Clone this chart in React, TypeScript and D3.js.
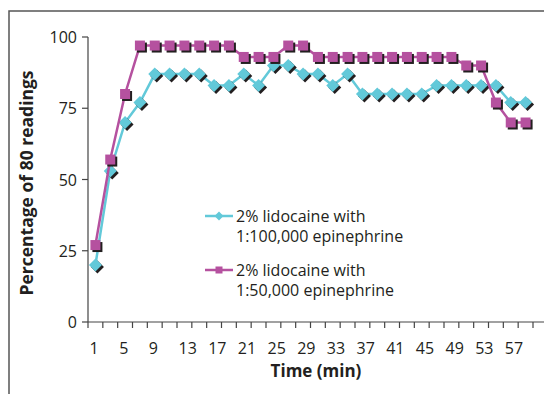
import React from "react";
import * as d3 from "d3";

const times = [1,3,5,7,9,11,13,15,17,19,21,23,25,27,29,31,33,35,37,39,41,43,45,47,49,51,53,55,57,59];
const series100k = [20,53,70,77,87,87,87,87,83,83,87,83,90,90,87,87,83,87,80,80,80,80,80,83,83,83,83,83,77,77];
const series50k = [27,57,80,97,97,97,97,97,97,97,93,93,93,97,97,93,93,93,93,93,93,93,93,93,93,90,90,77,70,70];
const yTicks = [0,25,50,75,100];
const labelTimes = [1,5,9,13,17,21,25,29,33,37,41,45,49,53,57];
const legendLabels = [["2% lidocaine with","1:100,000 epinephrine"],["2% lidocaine with","1:50,000 epinephrine"]];

const W = 544, H = 394;
const BLUE = "#62C9D9";
const MAG = "#B5519F";
const FONT = "'Open Sans', Lato, sans-serif";

export default function App() {
  const x = d3.scaleBand<number>().domain(times).range([88, 533]).padding(0);
  const y = d3.scaleLinear().domain([0, 100]).range([322, 37]);
  const cx = (t: number) => (x(t) as number) + x.bandwidth() / 2;
  const line = d3.line<number>().x((_, i) => cx(times[i])).y((v) => y(v));

  const diamond = (px: number, py: number, r: number) =>
    `M${px},${py - r}L${px + r},${py}L${px},${py + r}L${px - r},${py}Z`;

  const boundaries = [...times.map((t) => x(t) as number), (x(times[times.length - 1]) as number) + x.bandwidth()];

  return (
    <svg width={W} height={H} style={{ position: "fixed", left: 0, top: 0, background: "#fff" }} fontFamily={FONT}>
      <rect x={0} y={0} width={W} height={H} fill="#fff" />
      {/* frame */}
      <path d={`M9,${H}V11H${W}`} fill="none" stroke="#555" strokeWidth={1.5} />

      {/* y axis */}
      <line x1={88} x2={88} y1={y(100)} y2={y(0)} stroke="#444" strokeWidth={1.2} />
      {yTicks.map((v) => (
        <g key={v}>
          <line x1={82} x2={88} y1={y(v)} y2={y(v)} stroke="#444" strokeWidth={1.2} />
          <text x={77} y={y(v)} textAnchor="end" dominantBaseline="central" fontSize={16} fill="#231f20">{v}</text>
        </g>
      ))}
      {/* x axis */}
      <line x1={88} x2={W} y1={y(0)} y2={y(0)} stroke="#444" strokeWidth={1.2} />
      {boundaries.map((bx, i) => (
        <line key={i} x1={bx} x2={bx} y1={y(0)} y2={y(0) + 6} stroke="#444" strokeWidth={1.2} />
      ))}
      {labelTimes.map((t) => (
        <text key={t} x={(x(t) as number) + 1.5} y={354} textAnchor="start" fontSize={16} fill="#231f20">{t}</text>
      ))}
      <text x={316} y={376.5} textAnchor="middle" fontSize={17} fontWeight="bold" fill="#231f20">Time (min)</text>
      <text transform={`translate(33,183) rotate(-90)`} textAnchor="middle" fontSize={17.5} fontWeight="bold" fill="#231f20">Percentage of 80 readings</text>

      {/* series 1:100,000 */}
      <path d={line(series100k) as string} fill="none" stroke={BLUE} strokeWidth={2.5} />
      {series100k.map((v, i) => (
        <path key={"s" + i} d={diamond(cx(times[i]) + 2, y(v) + 2, 6.5)} fill="#231f20" />
      ))}
      {series100k.map((v, i) => (
        <path key={"m" + i} d={diamond(cx(times[i]), y(v), 6.5)} fill={BLUE} />
      ))}

      {/* series 1:50,000 */}
      <path d={line(series50k) as string} fill="none" stroke={MAG} strokeWidth={2.5} />
      {series50k.map((v, i) => (
        <rect key={"s" + i} x={cx(times[i]) - 5 + 2} y={y(v) - 5 + 2} width={10} height={10} fill="#231f20" />
      ))}
      {series50k.map((v, i) => (
        <rect key={"m" + i} x={cx(times[i]) - 5} y={y(v) - 5} width={10} height={10} fill={MAG} />
      ))}

      {/* legend */}
      <g>
        <line x1={205} x2={233} y1={216} y2={216} stroke={BLUE} strokeWidth={2.5} />
        <path d={diamond(219, 216, 4.5)} fill={BLUE} />
        <text x={236} y={222} fontSize={16} fill="#231f20">{legendLabels[0][0]}</text>
        <text x={236} y={242} fontSize={16} fill="#231f20">{legendLabels[0][1]}</text>
        <line x1={205} x2={233} y1={270} y2={270} stroke={MAG} strokeWidth={2.5} />
        <rect x={215.5} y={266.5} width={7} height={7} fill={MAG} />
        <text x={236} y={276} fontSize={16} fill="#231f20">{legendLabels[1][0]}</text>
        <text x={236} y={296} fontSize={16} fill="#231f20">{legendLabels[1][1]}</text>
      </g>
    </svg>
  );
}
